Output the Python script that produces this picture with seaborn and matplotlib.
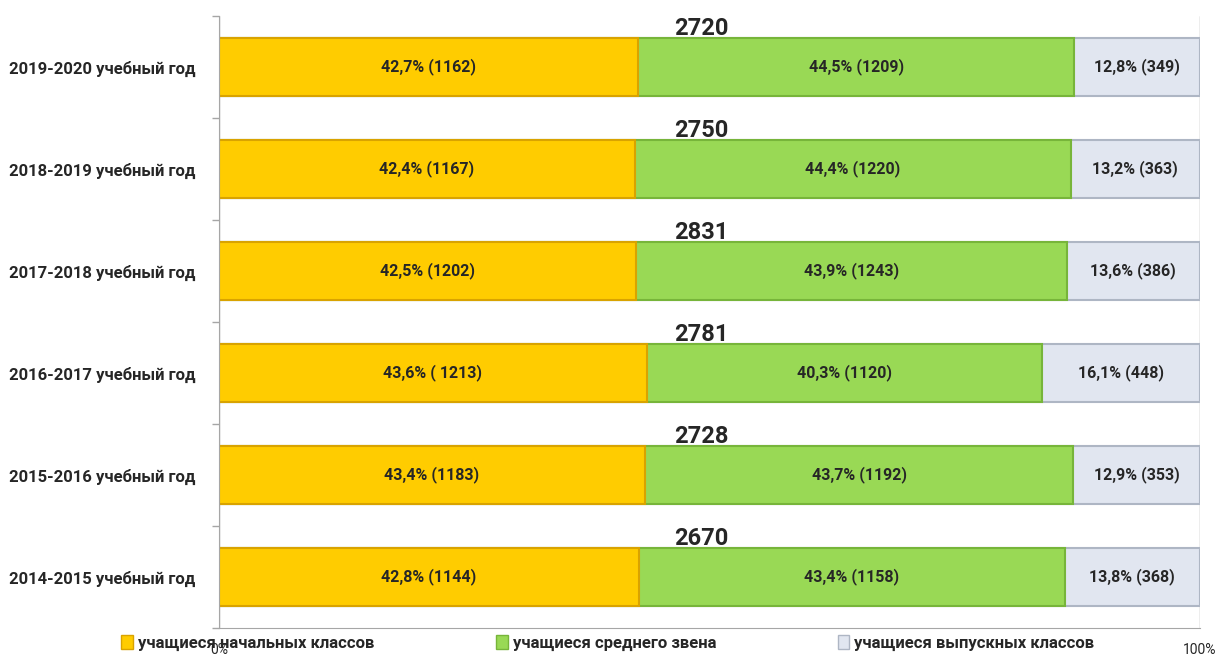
import seaborn as sns
import pandas as pd
import matplotlib.pyplot as plt
from matplotlib.patches import Patch
from matplotlib.ticker import FixedLocator

# data (top row first)
years = ['2019-2020 учебный год', '2018-2019 учебный год', '2017-2018 учебный год',
         '2016-2017 учебный год', '2015-2016 учебный год', '2014-2015 учебный год']
primary_pct = [42.7, 42.4, 42.5, 43.6, 43.4, 42.8]
middle_pct = [44.5, 44.4, 43.9, 40.3, 43.7, 43.4]
senior_pct = [12.8, 13.2, 13.6, 16.1, 12.9, 13.8]
primary_n = [1162, 1167, 1202, 1213, 1183, 1144]
middle_n = [1209, 1220, 1243, 1120, 1192, 1158]
senior_n = [349, 363, 386, 448, 353, 368]
totals = [2720, 2750, 2831, 2781, 2728, 2670]
series_names = ['учащиеся начальных классов', 'учащиеся среднего звена', 'учащиеся выпускных классов']

data = pd.DataFrame({'year': years, 'primary': primary_pct,
                     'middle': middle_pct, 'senior': senior_pct})
data['cum2'] = data['primary'] + data['middle']
data['cum3'] = data['cum2'] + data['senior']

sns.set_style('white')
plt.rcParams['font.family'] = ['Roboto', 'DejaVu Sans']
plt.rcParams['font.weight'] = 'bold'

fills = ['#FFCC00', '#99D955', '#E1E6F0']
edges = ['#D9A300', '#77B53A', '#AEB6C4']

fig = plt.figure(figsize=(12.21, 6.57), dpi=100)
ax = fig.add_axes([0.1794, 0.0441, 0.8034, 0.9315])

# stacked bars: draw the cumulative totals back to front
for col, fc, ec in zip(['cum3', 'cum2', 'primary'], fills[::-1], edges[::-1]):
    sns.barplot(data=data, x=col, y='year', orient='h', color=fc,
                edgecolor=ec, linewidth=1.5, width=0.56, ax=ax, saturation=1)

# labels inside the segments
for i in range(len(years)):
    p, m, s = primary_pct[i], middle_pct[i], senior_pct[i]
    plab = f"{p:.1f}% ({primary_n[i]})".replace('.', ',')
    if i == 3:
        plab = f"{p:.1f}% ( {primary_n[i]})".replace('.', ',')
    ax.text(p / 2, i, plab, ha='center', va='center', fontsize=11.5, fontweight='bold')
    ax.text(p + m / 2, i, f"{m:.1f}% ({middle_n[i]})".replace('.', ','),
            ha='center', va='center', fontsize=11.5, fontweight='bold')
    ax.text(p + m + s / 2, i, f"{s:.1f}% ({senior_n[i]})".replace('.', ','),
            ha='center', va='center', fontsize=11.5, fontweight='bold')
    ax.text(49.2, i - 0.38, str(totals[i]), ha='center', va='center',
            fontsize=17, fontweight='bold')

ax.set_xlim(0, 100)
ax.set_ylim(len(years) - 0.5, -0.5)
ax.set_xticks([0, 100])
ax.set_xticklabels(['0%', '100%'], fontsize=10, fontweight='normal')
ax.tick_params(axis='x', length=0, pad=11)
ax.xaxis.grid(True, color='#A6A6A6', linewidth=1)
ax.set_axisbelow(True)

ax.set_ylabel('')
ax.set_xlabel('')
ax.tick_params(axis='y', which='major', length=0, pad=17, labelsize=12)
for lab in ax.get_yticklabels():
    lab.set_fontweight('bold')
ax.yaxis.set_minor_locator(FixedLocator([k - 0.5 for k in range(len(years) + 1)]))
ax.tick_params(axis='y', which='minor', length=5, color='#A6A6A6', width=1, left=True)

for side in ['top', 'right']:
    ax.spines[side].set_visible(False)
ax.spines['left'].set_color('#A6A6A6')
ax.spines['bottom'].set_color('#A6A6A6')

handles = [Patch(facecolor=f, edgecolor=e) for f, e in zip(fills, edges)]
fig.legend(handles, series_names, loc='lower left', bbox_to_anchor=(0.087, -0.014),
           ncol=3, frameon=False, handlelength=0.7, handleheight=0.9,
           handletextpad=0.3, columnspacing=7.3, prop={'weight': 'bold', 'size': 12})

fig.savefig('out.png', dpi=100)
